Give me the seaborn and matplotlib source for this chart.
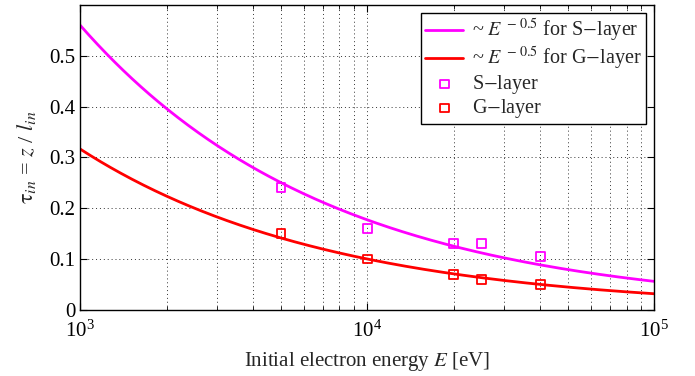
import numpy as np
import pandas as pd
import matplotlib
matplotlib.use("Agg")
import matplotlib.pyplot as plt
import seaborn as sns
from matplotlib.ticker import LogLocator, FixedLocator, NullFormatter

# Measured penetration depths (in units of the inelastic mean free path)
energy_eV = [5000, 10000, 20000, 25000, 40000]
tau_S = [0.24, 0.16, 0.13, 0.13, 0.105]
tau_G = [0.15, 0.10, 0.07, 0.06, 0.05]

# Power-law fits tau = A * E^p
fit_exponent = -0.5
fit_coef_S = 17.7
fit_coef_G = 10.0
fit_range = [1e3, 1e5]

y_ticks = [0, 0.1, 0.2, 0.3, 0.4, 0.5]
y_limits = [0, 0.6]

sns.set_style("ticks")
plt.rcParams["font.family"] = ["Liberation Serif", "DejaVu Serif"]
plt.rcParams["mathtext.fontset"] = "stix"

E_grid = np.logspace(np.log10(fit_range[0]), np.log10(fit_range[1]), 400)
fits = pd.DataFrame({
    "E": np.concatenate([E_grid, E_grid]),
    "tau": np.concatenate([fit_coef_S * E_grid ** fit_exponent,
                           fit_coef_G * E_grid ** fit_exponent]),
    "series": ["fitS"] * len(E_grid) + ["fitG"] * len(E_grid),
})
points = pd.DataFrame({
    "E": energy_eV * 2,
    "tau": tau_S + tau_G,
    "series": ["S"] * len(energy_eV) + ["G"] * len(energy_eV),
})

fig = plt.figure(figsize=(6.95, 3.76), dpi=100)
ax = fig.add_axes([0.1155, 0.176, 0.826, 0.811])

magenta = "#ff00ff"
red = "#ff0000"

sns.lineplot(data=fits[fits.series == "fitS"], x="E", y="tau", color=magenta,
             lw=2.0, ax=ax, label=r"~ $E^{\,-\,0.5}$ for S$-$layer")
sns.lineplot(data=fits[fits.series == "fitG"], x="E", y="tau", color=red,
             lw=2.0, ax=ax, label=r"~ $E^{\,-\,0.5}$ for G$-$layer")
sns.scatterplot(data=points[points.series == "S"], x="E", y="tau", marker="s",
                s=40, facecolor="none", edgecolor=magenta, linewidth=1.3,
                ax=ax, label=r"S$-$layer", zorder=3)
sns.scatterplot(data=points[points.series == "G"], x="E", y="tau", marker="s",
                s=40, facecolor="none", edgecolor=red, linewidth=1.3,
                ax=ax, label=r"G$-$layer", zorder=3)

ax.set_xscale("log")
ax.set_xlim(fit_range)
ax.set_ylim(y_limits)
ax.yaxis.set_major_locator(FixedLocator(y_ticks))
ax.set_yticklabels(["0", "0.1", "0.2", "0.3", "0.4", "0.5"])
ax.xaxis.set_major_locator(LogLocator(base=10, numticks=5))
ax.xaxis.set_minor_locator(LogLocator(base=10, subs=np.arange(2, 10), numticks=20))
ax.xaxis.set_minor_formatter(NullFormatter())

ax.grid(True, which="major", axis="both", ls=(0, (1, 3)), color="#333333", lw=0.7)
ax.grid(True, which="minor", axis="x", ls=(0, (1, 3)), color="#333333", lw=0.7)

ax.tick_params(which="both", direction="in", top=True, right=True,
               labelsize=15, colors="black")
ax.tick_params(which="major", length=5, width=0.8)
ax.tick_params(which="minor", length=3, width=0.6)
ax.tick_params(axis="x", pad=8)
for sp in ax.spines.values():
    sp.set_visible(True)
    sp.set_linewidth(1.0)
    sp.set_color("black")

ax.set_xlabel(r"Initial electron energy $E$ [eV]", fontsize=15, labelpad=6)
ax.set_ylabel(r"$\mathrm{\tau}_{in}$ = $z$ / $l_{in}$", fontsize=16, labelpad=8)

leg = ax.legend(loc="upper right", fontsize=14.5, frameon=True, fancybox=False,
                edgecolor="black", framealpha=1, borderpad=0.2,
                handlelength=1.9, handletextpad=0.45, labelspacing=0.05,
                borderaxespad=0.4)
leg.get_frame().set_linewidth(1.0)

fig.savefig("out.png", dpi=100)
